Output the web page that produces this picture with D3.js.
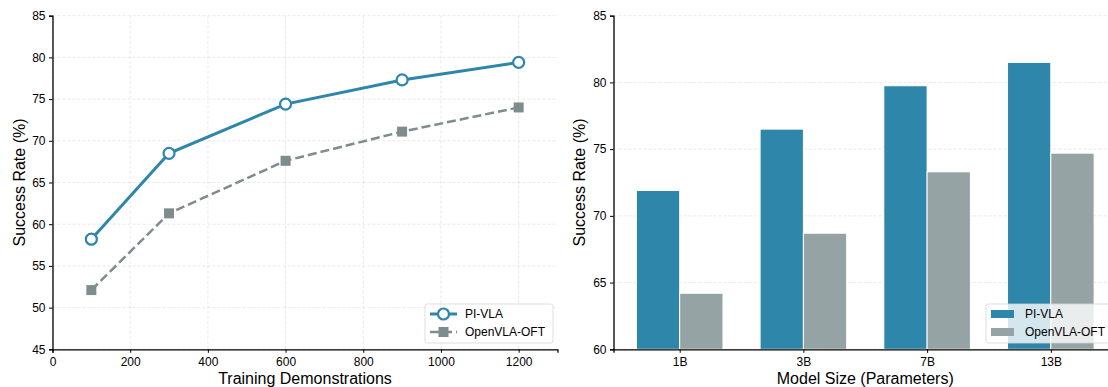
<!DOCTYPE html>
<html>
<head>
<meta charset="utf-8">
<script src="https://cdn.jsdelivr.net/npm/d3@7"></script>
<style>
  body { margin: 0; background: #fff; }
  svg { display: block; font-family: "Liberation Sans", Arial, Helvetica, sans-serif; }
</style>
</head>
<body>
<svg id="chart" width="1108" height="387"></svg>
<script>
// Left panel: success rate vs number of demonstrations
const demos = [100, 300, 600, 900, 1200];
const piVlaDemo = [58.2, 68.5, 74.4, 77.3, 79.4];
const oftDemo = [52.1, 61.3, 67.6, 71.1, 74.0];
const demoTicks = [0, 200, 400, 600, 800, 1000, 1200];
const demoYTicks = [45, 50, 55, 60, 65, 70, 75, 80, 85];

// Right panel: success rate vs model size
const modelSizes = ['1B', '3B', '7B', '13B'];
const piVlaSize = [71.9, 76.5, 79.75, 81.5];
const oftSize = [64.2, 68.7, 73.3, 74.7];
const sizeYTicks = [60, 65, 70, 75, 80, 85];

const seriesNames = ['PI-VLA', 'OpenVLA-OFT'];
const blue = '#2E86AB';
const greyLine = '#7F8C8D';
const greyBar = '#95A3A4';

const svg = d3.select('#chart');

function styleAxis(sel) {
    sel.select('.domain').attr('stroke', '#000').attr('stroke-width', 1.3);
    sel.selectAll('.tick line').attr('stroke', '#000').attr('stroke-width', 1);
    sel.selectAll('.tick text')
        .attr('fill', '#000')
        .style('font-size', '12px')
        .style('font-family', '"Liberation Sans", Arial, sans-serif');
}

// ---------- Left panel ----------
const L = { left: 52.5, right: 557.5, top: 15.7, bottom: 349.3 };

const xL = d3.scaleLinear().domain([0, 1300]).range([L.left, L.right]);
const yL = d3.scaleLinear().domain([45, 85]).range([L.bottom, L.top]);

const gL = svg.append('g');

// grid
gL.append('g').selectAll('line.gx')
    .data(demoTicks)
    .join('line')
    .attr('x1', d => xL(d)).attr('x2', d => xL(d))
    .attr('y1', L.top).attr('y2', L.bottom)
    .attr('stroke', '#b0b0b0').attr('stroke-opacity', 0.35)
    .attr('stroke-width', 0.8).attr('stroke-dasharray', '3,2');

gL.append('g').selectAll('line.gy')
    .data(demoYTicks)
    .join('line')
    .attr('x1', L.left).attr('x2', L.right)
    .attr('y1', d => yL(d)).attr('y2', d => yL(d))
    .attr('stroke', '#b0b0b0').attr('stroke-opacity', 0.35)
    .attr('stroke-width', 0.8).attr('stroke-dasharray', '3,2');

const lineL = d3.line().x((d, i) => xL(demos[i])).y(d => yL(d));

gL.append('path')
    .datum(oftDemo)
    .attr('d', lineL)
    .attr('fill', 'none')
    .attr('stroke', greyLine)
    .attr('stroke-width', 2.5)
    .attr('stroke-dasharray', '9,4');

gL.append('path')
    .datum(piVlaDemo)
    .attr('d', lineL)
    .attr('fill', 'none')
    .attr('stroke', blue)
    .attr('stroke-width', 3);

gL.append('g').selectAll('rect')
    .data(oftDemo)
    .join('rect')
    .attr('x', (d, i) => xL(demos[i]) - 5)
    .attr('y', d => yL(d) - 5)
    .attr('width', 10).attr('height', 10)
    .attr('fill', greyLine);

gL.append('g').selectAll('circle')
    .data(piVlaDemo)
    .join('circle')
    .attr('cx', (d, i) => xL(demos[i]))
    .attr('cy', d => yL(d))
    .attr('r', 5.5)
    .attr('fill', '#fff')
    .attr('stroke', blue)
    .attr('stroke-width', 2.2);

gL.append('g')
    .attr('transform', `translate(0,${L.bottom})`)
    .call(d3.axisBottom(xL).tickValues(demoTicks).tickSize(3.5).tickPadding(4.5).tickFormat(d3.format('d')))
    .call(styleAxis);

gL.append('g')
    .attr('transform', `translate(${L.left},0)`)
    .call(d3.axisLeft(yL).tickValues(demoYTicks).tickSize(3.5).tickPadding(3.5))
    .call(styleAxis);

gL.append('text')
    .attr('x', (L.left + L.right) / 2)
    .attr('y', 384)
    .attr('text-anchor', 'middle')
    .style('font-size', '16px')
    .text('Training Demonstrations');

gL.append('text')
    .attr('transform', `translate(25,${(L.top + L.bottom) / 2}) rotate(-90)`)
    .attr('text-anchor', 'middle')
    .style('font-size', '16px')
    .text('Success Rate (%)');

// legend left
const legL = gL.append('g').attr('transform', 'translate(425,304)');
legL.append('rect')
    .attr('width', 128).attr('height', 39)
    .attr('rx', 2.5)
    .attr('fill', '#fff').attr('fill-opacity', 0.8)
    .attr('stroke', '#d6d6d6').attr('stroke-width', 0.8);
legL.append('line')
    .attr('x1', 5).attr('x2', 32).attr('y1', 10).attr('y2', 10)
    .attr('stroke', blue).attr('stroke-width', 3);
legL.append('circle')
    .attr('cx', 18.5).attr('cy', 10).attr('r', 5.5)
    .attr('fill', '#fff').attr('stroke', blue).attr('stroke-width', 2.2);
legL.append('line')
    .attr('x1', 5).attr('x2', 32).attr('y1', 28).attr('y2', 28)
    .attr('stroke', greyLine).attr('stroke-width', 2.5)
    .attr('stroke-dasharray', '9,4');
legL.append('rect')
    .attr('x', 13.5).attr('y', 23).attr('width', 10).attr('height', 10)
    .attr('fill', greyLine);
legL.selectAll('text.lab')
    .data(seriesNames)
    .join('text')
    .attr('x', 40)
    .attr('y', (d, i) => 14 + i * 18)
    .style('font-size', '12px')
    .text(d => d);

// ---------- Right panel ----------
const R = { left: 613.5, right: 1117, top: 15.7, bottom: 349.3 };
const barW = 0.35;

const xR = d3.scaleLinear().domain([-0.535, 3.535]).range([R.left, R.right]);
const yR = d3.scaleLinear().domain([60, 85]).range([R.bottom, R.top]);

const gR = svg.append('g');

gR.append('g').selectAll('line')
    .data(sizeYTicks)
    .join('line')
    .attr('x1', R.left).attr('x2', R.right)
    .attr('y1', d => yR(d)).attr('y2', d => yR(d))
    .attr('stroke', '#b0b0b0').attr('stroke-opacity', 0.35)
    .attr('stroke-width', 0.8).attr('stroke-dasharray', '3,2');

gR.append('g').selectAll('rect')
    .data(piVlaSize)
    .join('rect')
    .attr('x', (d, i) => xR(i - barW))
    .attr('y', d => yR(d))
    .attr('width', (d, i) => xR(i) - xR(i - barW))
    .attr('height', d => yR(60) - yR(d))
    .attr('fill', blue)
    .attr('stroke', '#fff').attr('stroke-width', 1);

gR.append('g').selectAll('rect')
    .data(oftSize)
    .join('rect')
    .attr('x', (d, i) => xR(i))
    .attr('y', d => yR(d))
    .attr('width', (d, i) => xR(i + barW) - xR(i))
    .attr('height', d => yR(60) - yR(d))
    .attr('fill', greyBar)
    .attr('stroke', '#fff').attr('stroke-width', 1);

gR.append('g')
    .attr('transform', `translate(0,${R.bottom})`)
    .call(d3.axisBottom(xR).tickValues([0, 1, 2, 3]).tickSize(3.5).tickPadding(4.5).tickFormat(i => modelSizes[i]))
    .call(styleAxis);

gR.append('g')
    .attr('transform', `translate(${R.left},0)`)
    .call(d3.axisLeft(yR).tickValues(sizeYTicks).tickSize(3.5).tickPadding(3.5))
    .call(styleAxis);

gR.append('text')
    .attr('x', (R.left + R.right) / 2)
    .attr('y', 384)
    .attr('text-anchor', 'middle')
    .style('font-size', '16px')
    .text('Model Size (Parameters)');

gR.append('text')
    .attr('transform', `translate(585,${(R.top + R.bottom) / 2}) rotate(-90)`)
    .attr('text-anchor', 'middle')
    .style('font-size', '16px')
    .text('Success Rate (%)');

// legend right
const legR = gR.append('g').attr('transform', 'translate(986,304)');
legR.append('rect')
    .attr('width', 128).attr('height', 39)
    .attr('rx', 2.5)
    .attr('fill', '#fff').attr('fill-opacity', 0.8)
    .attr('stroke', '#d6d6d6').attr('stroke-width', 0.8);
legR.selectAll('rect.sw')
    .data([blue, greyBar])
    .join('rect')
    .attr('x', 5).attr('y', (d, i) => 6 + i * 18)
    .attr('width', 23).attr('height', 8)
    .attr('fill', d => d);
legR.selectAll('text.lab')
    .data(seriesNames)
    .join('text')
    .attr('x', 39)
    .attr('y', (d, i) => 14 + i * 18)
    .style('font-size', '12px')
    .text(d => d);
</script>
</body>
</html>
